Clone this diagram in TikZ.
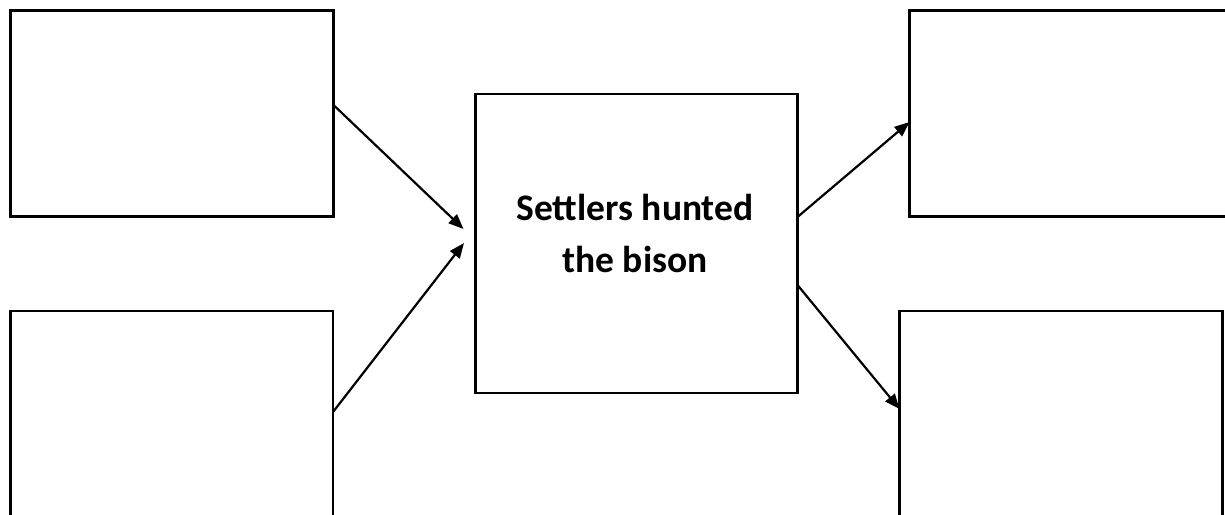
\documentclass[tikz,border=0pt]{standalone}
\usepackage{fontspec}
\setmainfont{Carlito}
\usetikzlibrary{arrows.meta,calc}

\begin{document}
\begin{tikzpicture}[x=1pt,y=-1pt,
  box/.style={draw=black,line width=2.2pt,rectangle,inner sep=0pt,outer sep=0pt,fill=white},
  arr/.style={line width=2.2pt,-{Triangle[length=15pt,width=12pt]}}]
  \useasboundingbox (0,0) rectangle (1225,514);
  \clip (0,0) rectangle (1225,514);
  \fill[white] (0,0) rectangle (1225,514);

  % empty boxes on the left and right
  \node[box,minimum width=323pt,minimum height=206pt] (tl) at (172,113.5) {};
  \node[box,minimum width=322.5pt,minimum height=310pt] (bl) at (171.75,466) {};
  \node[box,minimum width=330pt,minimum height=206pt] (tr) at (1074.5,113.5) {};
  \node[box,minimum width=323pt,minimum height=310pt] (br) at (1061,466) {};

  % central box and its label
  \node[box,minimum width=322pt,minimum height=299pt] (c) at (636.5,243.5) {};
  \node[inner sep=0pt,align=center,font=\fontsize{37.5}{52}\selectfont\bfseries]
        (clabel) at ($(c.center)+(-1.5,-10)$) {Settlers hunted\\the bison};

  % connectors
  \draw[arr] ($(tl.east)+(0,-8.5)$) -- ($(c.west)+(-12,-14.5)$);
  \draw[arr] ($(bl.east)+(0,-54)$) -- ($(c.west)+(-11.5,-0.5)$);
  \draw[arr] ($(c.east)+(0,-26.5)$) -- ($(tr.west)+(0,8.5)$);
  \draw[arr] ($(c.east)+(0,41.5)$) -- ($(br.west)+(0,-57)$);
\end{tikzpicture}
\end{document}
